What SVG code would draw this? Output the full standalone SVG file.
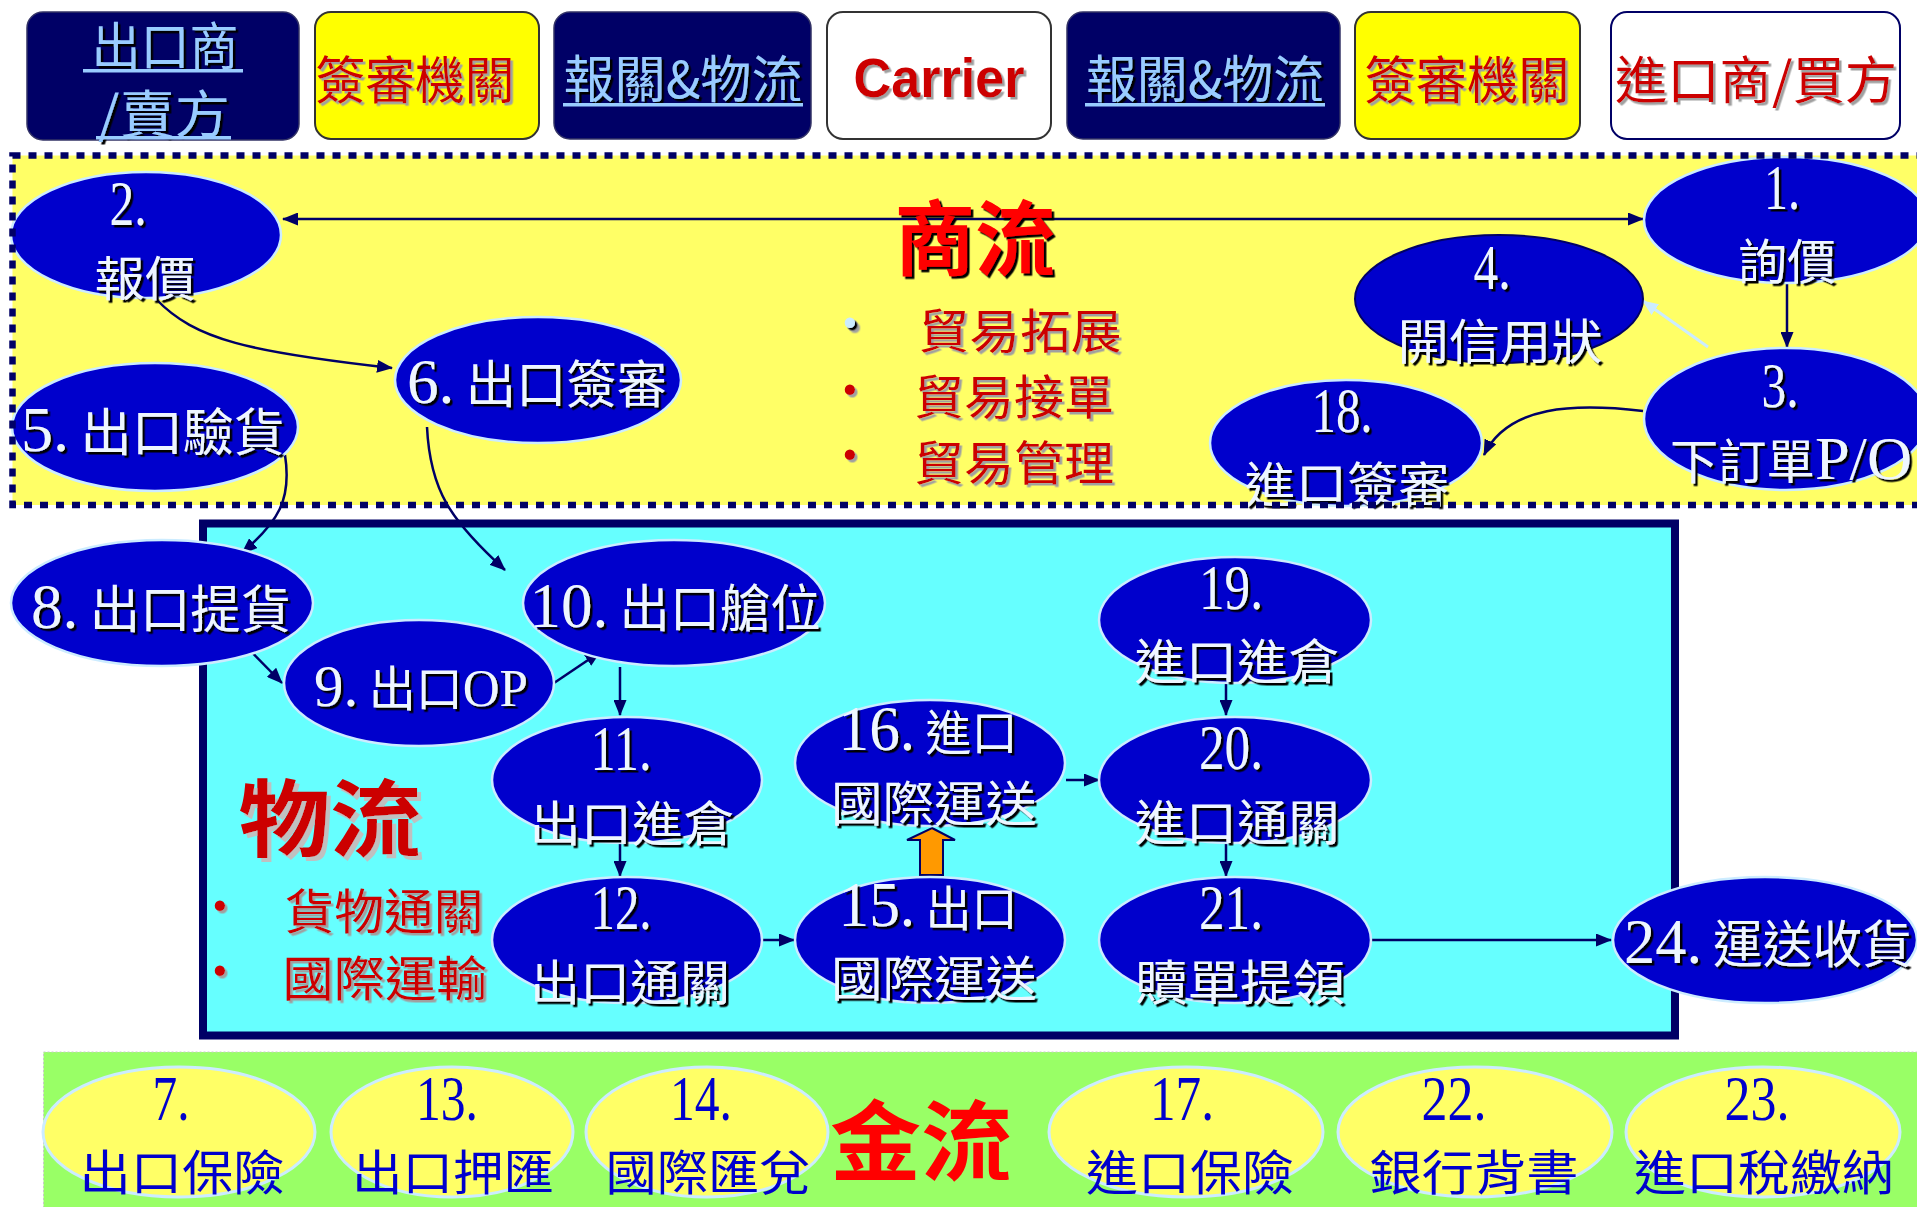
<svg xmlns="http://www.w3.org/2000/svg" width="1917" height="1207" viewBox="0 0 1917 1207">
<defs>
<style>
.cjk{font-family:"Noto Sans CJK TC","Noto Sans CJK SC",sans-serif}
.e{fill:#0000CC;stroke:#CCECFF;stroke-width:2.5}
.g{fill:#FFFF66;stroke:#CCECFF;stroke-width:3}
.t{fill:#EEF6FF;font-family:"Noto Sans CJK TC","Noto Sans CJK SC",sans-serif;font-size:48px;text-anchor:middle;filter:url(#shd)}
.gt{fill:#0000CC;font-family:"Noto Sans CJK TC","Noto Sans CJK SC",sans-serif;font-size:48px;text-anchor:middle}
.s1{font-size:51px}
.num{font-family:"Liberation Serif","Times New Roman",serif;font-size:64px}
.c{fill:none;stroke:#000066;stroke-width:2.5}
.bx{fill:#99CCFF;font-family:"Noto Sans CJK TC","Noto Sans CJK SC",sans-serif;font-size:51px;text-anchor:middle;filter:url(#shd)}
.rd{fill:#CC0000;font-family:"Noto Sans CJK TC","Noto Sans CJK SC",sans-serif;font-size:51px;text-anchor:middle;filter:url(#shg)}
.ul{fill:#99CCFF}
.bul{font-family:"Liberation Sans",sans-serif;font-size:38px}
</style>
<filter id="shd" x="-10%" y="-10%" width="130%" height="140%"><feDropShadow dx="2.5" dy="2.5" stdDeviation="0" flood-color="#000000"/></filter>
<filter id="shg" x="-10%" y="-10%" width="130%" height="140%"><feDropShadow dx="2.5" dy="2.5" stdDeviation="0.3" flood-color="#A0A0A0"/></filter>
<filter id="shl" x="-10%" y="-10%" width="130%" height="140%"><feDropShadow dx="4" dy="4" stdDeviation="0.3" flood-color="#C0C0C0"/></filter>
<marker id="ah" viewBox="0 0 16 13" refX="15" refY="6.5" markerWidth="16" markerHeight="13" markerUnits="userSpaceOnUse" orient="auto-start-reverse"><path d="M0,0 L16,6.5 L0,13 z" fill="#000066"/></marker>
<marker id="ahl" viewBox="0 0 16 13" refX="15" refY="6.5" markerWidth="16" markerHeight="13" markerUnits="userSpaceOnUse" orient="auto"><path d="M0,0 L16,6.5 L0,13 z" fill="#CCECFF"/></marker>
</defs>
<rect width="1917" height="1207" fill="#FFFFFF"/>

<!-- header boxes -->
<g id="h-exporter">
<rect x="27" y="12" width="272" height="128" rx="16" fill="#000066" stroke="#333366" stroke-width="1.5"/>
<text class="bx"><tspan x="165" y="65" textLength="147" lengthAdjust="spacingAndGlyphs">出口商</tspan><tspan x="164" y="133" textLength="132" lengthAdjust="spacingAndGlyphs">/賣方</tspan></text>
<rect class="ul" x="83" y="69" width="160" height="3.5"/>
<rect class="ul" x="96" y="136" width="135" height="3.5"/>
</g>
<g id="h-agency1">
<rect x="315" y="12" width="224" height="127" rx="16" fill="#FFFF00" stroke="#333333" stroke-width="2"/>
<text class="rd" x="415" y="99" textLength="199" lengthAdjust="spacingAndGlyphs">簽審機關</text>
</g>
<g id="h-broker1">
<rect x="554" y="12" width="257" height="127" rx="16" fill="#000066" stroke="#333366" stroke-width="1.5"/>
<text class="bx" x="683" y="98" textLength="239" lengthAdjust="spacingAndGlyphs">報關&amp;物流</text>
<rect class="ul" x="563" y="103" width="240" height="3.5"/>
</g>
<g id="h-carrier">
<rect x="827" y="12" width="224" height="127" rx="16" fill="#FFFFFF" stroke="#333333" stroke-width="2"/>
<text x="939" y="97" font-family="Liberation Sans, Arial, sans-serif" font-weight="bold" font-size="55" fill="#CC0000" text-anchor="middle" textLength="171" lengthAdjust="spacingAndGlyphs" filter="url(#shg)">Carrier</text>
</g>
<g id="h-broker2">
<rect x="1067" y="12" width="273" height="127" rx="16" fill="#000066" stroke="#333366" stroke-width="1.5"/>
<text class="bx" x="1205" y="98" textLength="238" lengthAdjust="spacingAndGlyphs">報關&amp;物流</text>
<rect class="ul" x="1085" y="103" width="240" height="3.5"/>
</g>
<g id="h-agency2">
<rect x="1355" y="12" width="225" height="127" rx="16" fill="#FFFF00" stroke="#333333" stroke-width="2"/>
<text class="rd" x="1467" y="99" textLength="205" lengthAdjust="spacingAndGlyphs">簽審機關</text>
</g>
<g id="h-importer">
<rect x="1611" y="12" width="289" height="127" rx="16" fill="#FFFFFF" stroke="#000066" stroke-width="2"/>
<text class="rd" x="1756" y="99" textLength="282" lengthAdjust="spacingAndGlyphs">進口商/買方</text>
</g>

<!-- panels -->
<rect id="panel-commerce" x="12.5" y="155.5" width="1915" height="349.5" fill="#FFFF66"/>
<rect id="panel-logistics" x="203" y="523.5" width="1472" height="512" fill="#66FFFF" stroke="#000066" stroke-width="8"/>
<rect id="panel-finance" x="43.5" y="1052" width="1880" height="160" fill="#99FF66" stroke="#C8C8C8" stroke-width="1" stroke-dasharray="2 2"/>

<!-- connectors -->
<g id="connectors">
<path class="c" d="M283,219 L1643,219" marker-start="url(#ah)" marker-end="url(#ah)"/>
<path class="c" d="M1787,283 L1787,347" marker-end="url(#ah)"/>
<path d="M1708,347 L1643,301" fill="none" stroke="#CCECFF" stroke-width="3" marker-end="url(#ahl)"/>
<path class="c" d="M1643,411 C1575,403 1508,405 1484,455" marker-end="url(#ah)"/>
<path class="c" d="M156,299 C195,340 250,352 392,368" marker-end="url(#ah)"/>
<path class="c" d="M285,455 C292,500 278,522 242,553" marker-end="url(#ah)"/>
<path class="c" d="M427,427 C430,490 450,520 505,570" marker-end="url(#ah)"/>
<path class="c" d="M233,633 L282,683" marker-end="url(#ah)"/>
<path class="c" d="M554,683 L600,652" marker-end="url(#ah)"/>
<path class="c" d="M620,667 L620,715" marker-end="url(#ah)"/>
<path class="c" d="M620,843 L620,876" marker-end="url(#ah)"/>
<path class="c" d="M762,940 L794,940" marker-end="url(#ah)"/>
<path class="c" d="M1066,780 L1099,780" marker-end="url(#ah)"/>
<path class="c" d="M1226,683 L1226,715" marker-end="url(#ah)"/>
<path class="c" d="M1226,843 L1226,876" marker-end="url(#ah)"/>
<path class="c" d="M1370,940 L1611,940" marker-end="url(#ah)"/>
<polygon points="932,828 955,840 943,840 943,875 920,875 920,840 907,840" fill="#FF9900" stroke="#000066" stroke-width="2"/>
</g>

<!-- commerce nodes -->
<g id="n1"><ellipse class="e" cx="1786" cy="220" rx="142" ry="63"/>
<text class="t"><tspan class="num" x="1782" y="209" textLength="36" lengthAdjust="spacingAndGlyphs">1.</tspan><tspan x="1787" y="279" textLength="98" lengthAdjust="spacingAndGlyphs">詢價</tspan></text></g>
<g id="n2"><ellipse class="e" cx="146" cy="235" rx="135" ry="63"/>
<text class="t"><tspan class="num" x="128" y="225" textLength="37" lengthAdjust="spacingAndGlyphs">2.</tspan><tspan x="145" y="296" textLength="101" lengthAdjust="spacingAndGlyphs">報價</tspan></text></g>
<g id="n3"><ellipse class="e" cx="1786" cy="419" rx="142" ry="71"/>
<text class="t"><tspan class="num" x="1780" y="407" textLength="37" lengthAdjust="spacingAndGlyphs">3.</tspan><tspan x="1791" y="479" textLength="242" lengthAdjust="spacingAndGlyphs">下訂單<tspan class="num" style="font-size:62px">P/O</tspan></tspan></text></g>
<g id="n4"><ellipse cx="1499" cy="299" rx="144" ry="64" fill="#0000CC" stroke="#000066" stroke-width="2"/>
<text class="t"><tspan class="num" x="1492" y="289" textLength="37" lengthAdjust="spacingAndGlyphs">4.</tspan><tspan x="1500" y="359" textLength="205" lengthAdjust="spacingAndGlyphs">開信用狀</tspan></text></g>
<g id="n5"><ellipse class="e" cx="155" cy="427" rx="143" ry="64"/>
<text class="t s1" x="153" y="451" textLength="264" lengthAdjust="spacingAndGlyphs"><tspan class="num">5.</tspan> 出口驗貨</text></g>
<g id="n6"><ellipse class="e" cx="538" cy="380" rx="143" ry="63"/>
<text class="t s1" x="537" y="403" textLength="260" lengthAdjust="spacingAndGlyphs"><tspan class="num">6.</tspan> 出口簽審</text></g>
<g id="n18"><ellipse class="e" cx="1346" cy="443" rx="136" ry="63"/>
<text class="t"><tspan class="num" x="1342" y="432" textLength="61" lengthAdjust="spacingAndGlyphs">18.</tspan><tspan x="1347" y="502" textLength="205" lengthAdjust="spacingAndGlyphs">進口簽審</tspan></text></g>

<rect id="panel-commerce-border" x="12.5" y="155.5" width="1915" height="349.5" fill="none" stroke="#000066" stroke-width="6.5" stroke-dasharray="8 8"/>

<g id="label-commerce">
<text x="975" y="269" class="cjk" font-size="82" font-weight="bold" fill="#FF0000" text-anchor="middle" textLength="161" lengthAdjust="spacingAndGlyphs" filter="url(#shd)">商流</text>
<text class="rd" style="font-size:47px"><tspan class="bul" x="850" y="336" fill="#CCECFF" filter="url(#shd)">•</tspan><tspan x="1020" y="348" textLength="203" lengthAdjust="spacingAndGlyphs">貿易拓展</tspan><tspan class="bul" x="850" y="403">•</tspan><tspan x="1014" y="414" textLength="200" lengthAdjust="spacingAndGlyphs">貿易接單</tspan><tspan class="bul" x="850" y="468">•</tspan><tspan x="1014" y="480" textLength="200" lengthAdjust="spacingAndGlyphs">貿易管理</tspan></text>
</g>

<!-- logistics nodes -->
<g id="n8"><ellipse class="e" cx="162" cy="603" rx="151" ry="63"/>
<text class="t s1" x="161" y="628" textLength="260" lengthAdjust="spacingAndGlyphs"><tspan class="num">8.</tspan> 出口提貨</text></g>
<g id="n9"><ellipse class="e" cx="419" cy="683" rx="135" ry="63"/>
<text class="t" x="421" y="706" textLength="214" lengthAdjust="spacingAndGlyphs"><tspan class="num" style="font-size:60px">9.</tspan> 出口<tspan class="num" style="font-size:52px">OP</tspan></text></g>
<g id="n10"><ellipse class="e" cx="674" cy="603" rx="151" ry="63"/>
<text class="t s1" x="675" y="627" textLength="291" lengthAdjust="spacingAndGlyphs"><tspan class="num">10.</tspan> 出口艙位</text></g>
<g id="n11"><ellipse class="e" cx="627" cy="780" rx="135" ry="63"/>
<text class="t"><tspan class="num" x="621" y="770" textLength="61" lengthAdjust="spacingAndGlyphs">11.</tspan><tspan x="632" y="841" textLength="205" lengthAdjust="spacingAndGlyphs">出口進倉</tspan></text></g>
<g id="n12"><ellipse class="e" cx="627" cy="940" rx="135" ry="63"/>
<text class="t"><tspan class="num" x="621" y="929" textLength="61" lengthAdjust="spacingAndGlyphs">12.</tspan><tspan x="630" y="1000" textLength="200" lengthAdjust="spacingAndGlyphs">出口通關</tspan></text></g>
<g id="n15"><ellipse class="e" cx="930" cy="940" rx="135" ry="63"/>
<text class="t"><tspan x="928" y="926" textLength="179" lengthAdjust="spacingAndGlyphs"><tspan class="num">15.</tspan> 出口</tspan><tspan x="934" y="996" textLength="206" lengthAdjust="spacingAndGlyphs">國際運送</tspan></text></g>
<g id="n16"><ellipse class="e" cx="930" cy="763" rx="135" ry="63"/>
<text class="t"><tspan x="928" y="750" textLength="179" lengthAdjust="spacingAndGlyphs"><tspan class="num">16.</tspan> 進口</tspan><tspan x="934" y="821" textLength="206" lengthAdjust="spacingAndGlyphs">國際運送</tspan></text></g>
<g id="n19"><ellipse class="e" cx="1235" cy="620" rx="136" ry="63"/>
<text class="t"><tspan class="num" x="1231" y="609" textLength="64" lengthAdjust="spacingAndGlyphs">19.</tspan><tspan x="1237" y="679" textLength="205" lengthAdjust="spacingAndGlyphs">進口進倉</tspan></text></g>
<g id="n20"><ellipse class="e" cx="1235" cy="780" rx="136" ry="63"/>
<text class="t"><tspan class="num" x="1231" y="769" textLength="64" lengthAdjust="spacingAndGlyphs">20.</tspan><tspan x="1237" y="840" textLength="205" lengthAdjust="spacingAndGlyphs">進口通關</tspan></text></g>
<g id="n21"><ellipse class="e" cx="1235" cy="940" rx="136" ry="63"/>
<text class="t"><tspan class="num" x="1231" y="929" textLength="64" lengthAdjust="spacingAndGlyphs">21.</tspan><tspan x="1240" y="1000" textLength="210" lengthAdjust="spacingAndGlyphs">贖單提領</tspan></text></g>
<g id="n24"><ellipse class="e" cx="1765" cy="940" rx="152" ry="63"/>
<text class="t s1" x="1768" y="963" textLength="288" lengthAdjust="spacingAndGlyphs"><tspan class="num">24.</tspan> 運送收貨</text></g>

<g id="label-logistics">
<text x="330" y="850" class="cjk" font-size="84" font-weight="bold" fill="#CC0000" text-anchor="middle" textLength="183" lengthAdjust="spacingAndGlyphs" filter="url(#shl)">物流</text>
<text class="rd" style="font-size:48px"><tspan class="bul" x="220" y="919">•</tspan><tspan x="384" y="929" textLength="199" lengthAdjust="spacingAndGlyphs">貨物通關</tspan><tspan class="bul" x="220" y="984">•</tspan><tspan x="385" y="996" textLength="205" lengthAdjust="spacingAndGlyphs">國際運輸</tspan></text>
</g>

<!-- finance nodes -->
<g id="n7"><ellipse class="g" cx="179" cy="1132" rx="136" ry="65"/>
<text class="gt"><tspan class="num" x="171" y="1120" textLength="37" lengthAdjust="spacingAndGlyphs">7.</tspan><tspan x="182" y="1190" textLength="205" lengthAdjust="spacingAndGlyphs">出口保險</tspan></text></g>
<g id="n13"><ellipse class="g" cx="452" cy="1132" rx="121" ry="65"/>
<text class="gt"><tspan class="num" x="447" y="1120" textLength="62" lengthAdjust="spacingAndGlyphs">13.</tspan><tspan x="453" y="1190" textLength="202" lengthAdjust="spacingAndGlyphs">出口押匯</tspan></text></g>
<g id="n14"><ellipse class="g" cx="707" cy="1132" rx="121" ry="65"/>
<text class="gt"><tspan class="num" x="701" y="1120" textLength="62" lengthAdjust="spacingAndGlyphs">14.</tspan><tspan x="708" y="1190" textLength="205" lengthAdjust="spacingAndGlyphs">國際匯兌</tspan></text></g>
<g id="n17"><ellipse class="g" cx="1186" cy="1132" rx="137" ry="65"/>
<text class="gt"><tspan class="num" x="1182" y="1120" textLength="64" lengthAdjust="spacingAndGlyphs">17.</tspan><tspan x="1190" y="1190" textLength="208" lengthAdjust="spacingAndGlyphs">進口保險</tspan></text></g>
<g id="n22"><ellipse class="g" cx="1475" cy="1132" rx="137" ry="65"/>
<text class="gt"><tspan class="num" x="1454" y="1120" textLength="65" lengthAdjust="spacingAndGlyphs">22.</tspan><tspan x="1474" y="1190" textLength="209" lengthAdjust="spacingAndGlyphs">銀行背書</tspan></text></g>
<g id="n23"><ellipse class="g" cx="1763" cy="1132" rx="137" ry="65"/>
<text class="gt"><tspan class="num" x="1757" y="1120" textLength="65" lengthAdjust="spacingAndGlyphs">23.</tspan><tspan x="1764" y="1190" textLength="260" lengthAdjust="spacingAndGlyphs">進口稅繳納</tspan></text></g>

<g id="label-finance">
<text x="921" y="1174" class="cjk" font-size="87" font-weight="bold" fill="#FF0000" text-anchor="middle" textLength="182" lengthAdjust="spacingAndGlyphs">金流</text>
</g>
</svg>
